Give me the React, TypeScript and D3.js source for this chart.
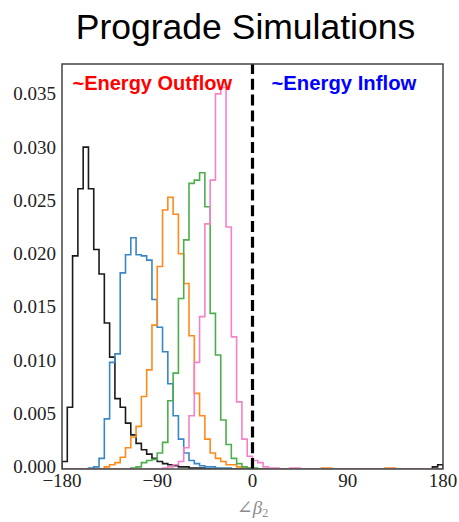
import React from "react";
import * as d3 from "d3";

// histogram bins: 5 degree wide from -180 to 180
const binEdges = d3.range(-180, 180.001, 5);

// densities; each series starts at the given bin index
const blackFrom = 0;
const blackDensity = [
  0.0007, 0.0058, 0.02, 0.0263, 0.0302, 0.0263, 0.0206, 0.0183, 0.0137, 0.0105,
  0.0066, 0.0058, 0.0043, 0.0032, 0.0024, 0.0018, 0.0014, 0.001, 0.0007, 0.0005,
  0.0004, 0.0003, 0.0002, 0.0002, 0.0001, 0.0001, 0.0001, 0, 0, 0,
  0, 0, 0, 0, 0, 0, 0, 0, 0, 0,
  0, 0, 0, 0, 0, 0, 0, 0, 0, 0,
  0, 0, 0, 0, 0, 0, 0, 0, 0, 0,
  0, 0, 0, 0, 0, 0, 0, 0, 0, 0,
  0.0002, 0.0004,
];
const blueFrom = 5;
const blueDensity = [
  0.0001, 0.0002, 0.001, 0.0047, 0.01, 0.0108, 0.0184, 0.0201, 0.0217, 0.0201,
  0.02, 0.0196, 0.0159, 0.0133, 0.011, 0.008, 0.005, 0.0028, 0.0015, 0.0008,
  0.0005, 0.0003, 0.0002, 0.0002, 0.0001, 0.0001, 0.0001,
];
const orangeFrom = 8;
const orangeDensity = [
  0.0002, 0.0004, 0.0006, 0.0011, 0.002, 0.003, 0.004, 0.0068, 0.0093, 0.0135,
  0.019, 0.0243, 0.0255, 0.0239, 0.0202, 0.0174, 0.0125, 0.0071, 0.005, 0.0028,
  0.0015, 0.001, 0.0007, 0.0004, 0.0004, 0.0002, 0.0001, 0.0001, 0, 0,
  0, 0, 0, 0, 0, 0, 0, 0, 0, 0,
  0, 0.0001, 0.0001, 0, 0, 0, 0, 0, 0, 0,
  0, 0, 0, 0.0001, 0.0001,
];
const greenFrom = 13;
const greenDensity = [
  0.0001, 0.0002, 0.0006, 0.0008, 0.0009, 0.0015, 0.0025, 0.0064, 0.009, 0.016,
  0.0215, 0.0268, 0.0271, 0.0278, 0.0246, 0.0146, 0.0107, 0.0046, 0.0023, 0.001,
  0.0005, 0.0002, 0.0001, 0.0001,
];
const pinkFrom = 19;
const pinkDensity = [
  0.0001, 0.0002, 0.0004, 0.0007, 0.002, 0.005, 0.01, 0.0143, 0.023, 0.0271,
  0.0352, 0.0358, 0.0227, 0.0124, 0.0063, 0.0028, 0.0012, 0.0008, 0.0006, 0.0002,
  0.0001, 0.0001, 0, 0, 0.0001, 0.0001,
];

const yTicks = [0, 0.005, 0.01, 0.015, 0.02, 0.025, 0.03, 0.035];
const xTicks = [-180, -90, 0, 90, 180];

const series = [
  { from: blackFrom, values: blackDensity, color: "#1a1a1a" },
  { from: blueFrom, values: blueDensity, color: "#3b86c6" },
  { from: orangeFrom, values: orangeDensity, color: "#ff8a1c" },
  { from: greenFrom, values: greenDensity, color: "#4cae4c" },
  { from: pinkFrom, values: pinkDensity, color: "#f482c9" },
];

const W = 459;
const H = 522;
const margin = { top: 64, right: 16, bottom: 53, left: 62 };

export default function App() {
  const x = d3.scaleLinear().domain([-180, 180]).range([margin.left, W - margin.right]);
  const y = d3.scaleLinear().domain([0, 0.038]).range([H - margin.bottom, margin.top]);
  const fmt = d3.format(".3f");

  const line = d3
    .line<[number, number]>()
    .x((d) => x(d[0]))
    .y((d) => y(d[1]))
    .curve(d3.curveStepAfter);

  const nBins = binEdges.length - 1;
  const paths = series.map((s) => {
    // pad to the full bin range with empty bins
    const full = d3.range(nBins).map((i) => {
      const j = i - s.from;
      return j >= 0 && j < s.values.length ? s.values[j] : 0;
    });
    const pts: [number, number][] = [[binEdges[0], 0]];
    full.forEach((v, i) => pts.push([binEdges[i], v]));
    pts.push([binEdges[nBins], 0]);
    return { d: line(pts) || "", color: s.color };
  });

  const serif = "'Liberation Serif', 'DejaVu Serif', serif";
  const sans = "'Liberation Sans', Arial, sans-serif";

  return (
    <svg
      width={W}
      height={H}
      style={{ position: "absolute", left: 0, top: 0, background: "#fff" }}
    >
      <text x={245.5} y={39} fontFamily={sans} fontSize={35.5} textAnchor="middle" fill="#000">
        Prograde Simulations
      </text>

      <defs>
        <clipPath id="plot">
          <rect x={x(-180)} y={y(0.038)} width={x(180) - x(-180)} height={y(0) - y(0.038)} />
        </clipPath>
      </defs>

      <g clipPath="url(#plot)">
        {paths.map((p, i) => (
          <path key={i} d={p.d} fill="none" stroke={p.color} strokeWidth={1.6} strokeLinejoin="miter" />
        ))}
        <line
          x1={x(0)}
          x2={x(0)}
          y1={y(0)}
          y2={y(0.038)}
          stroke="#000"
          strokeWidth={3.2}
          strokeDasharray="11 4.8"
        />
      </g>

      <rect
        x={x(-180)}
        y={y(0.038)}
        width={x(180) - x(-180)}
        height={y(0) - y(0.038)}
        fill="none"
        stroke="#444"
        strokeWidth={1.5}
      />

      <text x={72.5} y={90} fontFamily={sans} fontWeight="bold" fontSize={20} fill="#ff0000">
        ~Energy Outflow
      </text>
      <text x={271.5} y={90} fontFamily={sans} fontWeight="bold" fontSize={20.3} fill="#0000ff">
        ~Energy Inflow
      </text>

      {yTicks.map((t) => (
        <text
          key={t}
          x={56}
          y={y(t) - 2}
          dy="0.33em"
          textAnchor="end"
          fontFamily={serif}
          fontSize={19}
          fill="#222"
        >
          {fmt(t)}
        </text>
      ))}

      {xTicks.map((t) => (
        <text
          key={t}
          x={x(t)}
          y={487}
          textAnchor="middle"
          fontFamily={serif}
          fontSize={19}
          fill="#222"
        >
          {t < 0 ? "\u2212" + Math.abs(t) : String(t)}
        </text>
      ))}

      <text x={x(0)} y={514} textAnchor="middle" fontFamily={serif} fontSize={19} fill="#8c8c8c">
        <tspan>∠</tspan>
        <tspan fontStyle="italic">β</tspan>
        <tspan fontSize={12} dy={3}>2</tspan>
      </text>
    </svg>
  );
}
